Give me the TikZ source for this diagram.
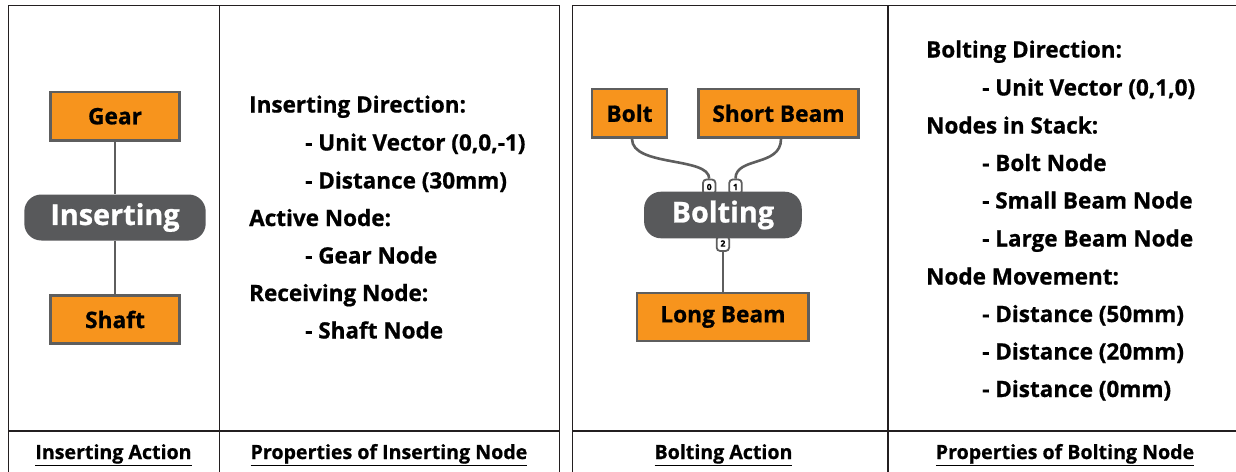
\documentclass[tikz,border=0pt]{standalone}
\usepackage{fontspec}
\setmainfont{Open Sans}[BoldFeatures={FakeBold=0.8}]
\usetikzlibrary{calc}

\definecolor{nodeorange}{HTML}{F7941D}
\definecolor{linegray}{HTML}{5E5E5E}
\definecolor{pillgray}{HTML}{58595B}
\definecolor{rulecol}{HTML}{231F20}

\begin{document}
\begin{tikzpicture}[x=1pt,y=-1pt,
  part/.style={draw=linegray, line width=2.6pt, fill=nodeorange, inner sep=0pt,
    minimum height=48.5pt, text=black, font=\fontsize{22.7}{24}\selectfont\bfseries},
  action/.style={fill=pillgray, rounded corners=17pt, inner sep=0pt,
    minimum height=46pt, text=white, font=\fontsize{28.8}{30}\selectfont\bfseries},
  port/.style={draw=linegray, fill=white, line width=1.8pt, rounded corners=3.5pt,
    inner sep=0pt, minimum width=12.5pt, minimum height=15pt, text=black,
    font=\fontsize{8.5}{8.5}\selectfont\bfseries},
  link/.style={draw=linegray, line width=2.6pt},
  rule/.style={draw=rulecol, line width=1.6pt},
  prop/.style={anchor=base west, inner sep=0pt, font=\fontsize{22.5}{24}\selectfont\bfseries},
  caption/.style={anchor=base, inner sep=0pt, font=\fontsize{19.6}{22}\selectfont\bfseries}
]
\useasboundingbox (0,0) rectangle (1236,471);
\clip (0,0) rectangle (1236,471);
\fill[white] (0,0) rectangle (1236,471);

% ---- table frames ----
\draw[rule] (8.3,520) -- (8.3,5.3) -- (559.3,5.3) -- (559.3,520);
\draw[rule] (219.3,5.3) -- (219.3,520);
\draw[rule] (8.3,430.7) -- (559.3,430.7);
\draw[rule] (572.3,520) -- (572.3,5.3) -- (1260,5.3);
\draw[rule] (887.7,5.3) -- (887.7,520);
\draw[rule] (572.3,430.7) -- (1260,430.7);

% ---- inserting action ----
\node[part, minimum width=129pt] (gear) at (115,116.2) {Gear};
\node[part, minimum width=129pt] (shaft) at (115,319.5) {Shaft};
\node[action, minimum width=181.4pt] (ins) at (115,217.5) {Inserting};
\draw[link] (gear.south) -- (ins.north);
\draw[link] (ins.south) -- (shaft.north);

% ---- inserting properties ----
\node[prop] (i1) at (249,112.5) {Inserting Direction:};
\node[prop] (i2) at (305,150.5) {- Unit Vector (0,0,-1)};
\node[prop] (i3) at (305,188.5) {- Distance (30mm)};
\node[prop] (i4) at (249,226) {Active Node:};
\node[prop] (i5) at (305,263.5) {- Gear Node};
\node[prop] (i6) at (249,301) {Receiving Node:};
\node[prop] (i7) at (305,338.5) {- Shaft Node};

% ---- bolting action ----
\node[part, minimum width=75pt, minimum height=48.7pt] (bolt) at (629.5,113.3) {Bolt};
\node[part, minimum width=160.4pt, minimum height=48.7pt] (sbeam) at (778.5,113.3) {Short Beam};
\node[part, minimum width=171.7pt, minimum height=48pt] (lbeam) at (722.9,317) {Long Beam};
\node[port] (p0) at (709.2,187) {0};
\node[port] (p1) at (735.5,187) {1};
\node[port] (p2) at (722.9,243.5) {2};
\node[action, minimum width=157.7pt, minimum height=46.6pt] (bolting) at (722.9,215) {Bolting};
\draw[link] ([xshift=2.5pt]bolt.south) .. controls +(0,28) and +(0,-22) .. (p0.north);
\draw[link] ([xshift=2.5pt]sbeam.south) .. controls +(0,28) and +(0,-22) .. (p1.north);
\draw[link] (p2.south) -- (lbeam.north);

% ---- bolting properties ----
\node[prop] (b1) at (926,57.5) {Bolting Direction:};
\node[prop] (b2) at (982,95.5) {- Unit Vector (0,1,0)};
\node[prop] (b3) at (926,133.5) {Nodes in Stack:};
\node[prop] (b4) at (982,171) {- Bolt Node};
\node[prop] (b5) at (982,208.5) {- Small Beam Node};
\node[prop] (b6) at (982,246.5) {- Large Beam Node};
\node[prop] (b7) at (926,284.5) {Node Movement:};
\node[prop] (b8) at (982,322) {- Distance (50mm)};
\node[prop] (b9) at (982,359.5) {- Distance (20mm)};
\node[prop] (b10) at (982,397) {- Distance (0mm)};

% ---- captions ----
\node[caption] (c1) at (113.5,459) {\underline{Inserting Action}};
\node[caption] (c2) at (389,459) {\underline{Properties of Inserting Node}};
\node[caption] (c3) at (723.5,459) {\underline{Bolting Action}};
\node[caption] (c4) at (1065,459) {\underline{Properties of Bolting Node}};
\end{tikzpicture}
\end{document}
